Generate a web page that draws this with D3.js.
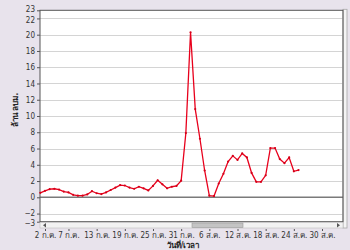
<!DOCTYPE html>
<html><head><meta charset="utf-8">
<script src="https://cdn.jsdelivr.net/npm/d3@7"></script>
<style>body{margin:0;background:#e8e3ec;}svg{display:block;}</style>
</head><body>
<script>
// Daily values (ล้าน ลบม.) starting 1 ก.ค.
const startDate = "2011-07-01";
const values = [0.55,0.8,1.0,1.05,0.95,0.7,0.6,0.3,0.2,0.2,0.35,0.75,0.5,0.4,0.6,0.9,1.2,1.5,1.45,1.2,1.05,1.3,1.1,0.85,1.4,2.1,1.6,1.1,1.3,1.4,2.05,7.9,20.3,10.85,7.2,3.3,0.2,0.15,1.7,2.9,4.4,5.1,4.6,5.4,4.9,3.0,1.9,1.9,2.7,6.05,6.05,4.7,4.2,4.9,3.2,3.35];
const xTickDays = [1,6,12,18,24,30,36,42,48,54,60];
const xTickLabels = ["2 ก.ค.","7 ก.ค.","13 ก.ค.","19 ก.ค.","25 ก.ค.","31 ก.ค.","6 ส.ค.","12 ส.ค.","18 ส.ค.","24 ส.ค.","30 ส.ค."];
const yTicks = [23,22,20,18,16,14,12,10,8,6,4,2,0,-2,-3];
const yLabel = "ล้าน ลบม.";
const xLabel = "วันที่/เวลา";

const W=350,H=250;
const L=40,R=343,T=10.3,B=221.7;
const svg=d3.select("body").append("svg").attr("width",W).attr("height",H);
svg.append("rect").attr("width",W).attr("height",H).attr("fill","#e8e3ec");

const x=d3.scaleLinear().domain([-0.065,64.47]).range([L,R]);
const y=d3.scaleLinear().domain([-3,23]).range([B,T]);
const font="Tahoma, 'DejaVu Sans Condensed', 'DejaVu Sans', sans-serif";

// plot bg
svg.append("rect").attr("x",L).attr("y",T).attr("width",R-L).attr("height",B-T).attr("fill","#fff");
// right side bar
svg.append("rect").attr("x",R).attr("y",T-1).attr("width",4).attr("height",228-T+1).attr("fill","#f4f4f4").attr("stroke","#a8a8a8").attr("stroke-width",0.8);

// grid
svg.append("g").selectAll("line").data(yTicks.filter(v=>v!==0&&v!==-3&&v!==23)).join("line")
  .attr("x1",L).attr("x2",R).attr("y1",d=>Math.round(y(d))+0.5).attr("y2",d=>Math.round(y(d))+0.5)
  .attr("stroke","#d4d4d4").attr("stroke-width",1);
// zero line
svg.append("line").attr("x1",L).attr("x2",R).attr("y1",y(0)).attr("y2",y(0)).attr("stroke","#7a7a7a").attr("stroke-width",1.4);

// frame
svg.append("rect").attr("x",L).attr("y",T).attr("width",R-L).attr("height",B-T).attr("fill","none").attr("stroke","#555").attr("stroke-width",1);

// y axis
const ya=svg.append("g").attr("transform",`translate(${L},0)`)
  .call(d3.axisLeft(y).tickValues(yTicks).tickSize(3).tickFormat(d3.format("d")));
ya.select(".domain").remove();
ya.selectAll("line").attr("stroke","#555");
ya.selectAll("text").attr("font-family",font).attr("font-size",8).attr("fill","#333").attr("dx",1);
// nudge crowded pairs so they stay readable, as in reference
ya.selectAll(".tick").filter(d=>d===23).select("text").attr("dy","0.15em");
ya.selectAll(".tick").filter(d=>d===22).select("text").attr("dy","0.45em");
ya.selectAll(".tick").filter(d=>d===-2).select("text").attr("dy","0.2em");
ya.selectAll(".tick").filter(d=>d===-3).select("text").attr("dy","0.5em");

// scrollbar
const sy=222.5;
svg.append("rect").attr("x",L).attr("y",sy).attr("width",R-L).attr("height",5.5).attr("fill","#f2f2f2").attr("stroke","#bdbdbd").attr("stroke-width",0.6);
svg.append("rect").attr("x",192).attr("y",sy+0.5).attr("width",51).attr("height",4.5).attr("fill","#c4c4c4").attr("stroke","#9a9a9a").attr("stroke-width",0.6);
svg.append("path").attr("d",`M${L+3},${sy+2.75} l3,-2.2 v4.4 z`).attr("fill","#555");
svg.append("path").attr("d",`M${R-3},${sy+2.75} l-3,-2.2 v4.4 z`).attr("fill","#555");

// x axis
const xa=svg.append("g").attr("transform",`translate(0,229)`)
  .call(d3.axisBottom(x).tickValues(xTickDays).tickSize(2).tickFormat((d,i)=>xTickLabels[i]));
xa.select(".domain").remove();
xa.selectAll("line").attr("stroke","#555");
xa.selectAll("text").attr("font-family",font).attr("font-size",8).attr("fill","#333").attr("dy","0.45em");

// labels
svg.append("text").attr("x",183).attr("y",247.5).attr("text-anchor","middle").attr("font-family",font)
  .attr("font-size",8).attr("font-weight","bold").attr("fill","#222").text(xLabel);
svg.append("text").attr("transform","translate(17.5,110) rotate(-90)").attr("text-anchor","middle").attr("font-family",font)
  .attr("font-size",8).attr("font-weight","bold").attr("fill","#222").text(yLabel);

// line
const line=d3.line().x((d,i)=>x(i)).y(d=>y(d));
svg.append("path").datum(values).attr("d",line).attr("fill","none").attr("stroke","#e8001c").attr("stroke-width",1.3);
svg.append("g").selectAll("circle").data(values).join("circle")
  .attr("cx",(d,i)=>x(i)).attr("cy",d=>y(d)).attr("r",1.1).attr("fill","#d40018");
</script>
</body></html>
